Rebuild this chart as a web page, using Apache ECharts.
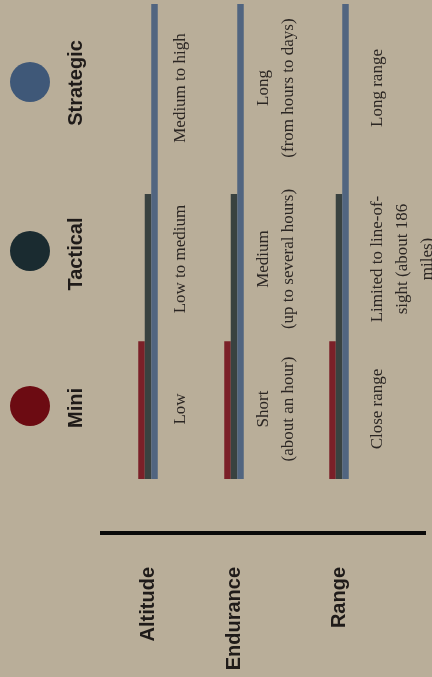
<!DOCTYPE html>
<html>
<head>
<meta charset="utf-8">
<script src="https://cdn.jsdelivr.net/npm/echarts@6/dist/echarts.min.js"></script>
<style>
html,body{margin:0;padding:0;background:#b9ae99;}
#chart{width:432px;height:677px;}
</style>
</head>
<body>
<div id="chart"></div>
<script>
// ---- data ----
const groups = ['Altitude', 'Endurance', 'Range'];
const classes = ['Mini', 'Tactical', 'Strategic'];
const altitudeLevel = [29, 60, 100];
const enduranceLevel = [29, 60, 100];
const rangeLevel = [29, 60, 100];
const altitudeText = ['Low', 'Low to medium', 'Medium to high'];
const enduranceText = ['Short\n(about an hour)', 'Medium\n(up to several hours)', 'Long\n(from hours to days)'];
const rangeText = ['Close range', 'Limited to line-of-\nsight (about 186\nmiles)', 'Long range'];

// ---- layout / style ----
const levels = [altitudeLevel, enduranceLevel, rangeLevel];
const texts = [altitudeText, enduranceText, rangeText];
const barColors = ['#7b2028', '#394240', '#516580'];
const legendColors = ['#6c0b12', '#1a2b30', '#3f5878'];
const groupCenter = [148, 234, 339];
const textLeft = [168, 251, 365];
const textCenter = [409, 259, 88];
const legendTop = [386, 231, 62];
const legendTextY = [408, 254, 83];
const baseY = 479, topY = 4, yMax = 100, bw = 6.5;
const W = 432, H = 677;

const grids = [], xAxes = [], yAxes = [], series = [];
groups.forEach((g, gi) => {
  grids.push({left: groupCenter[gi] - 30, width: 60, top: topY, bottom: H - baseY});
  xAxes.push({
    type: 'category', gridIndex: gi, data: [g],
    axisLine: {show: false}, axisTick: {show: false},
    axisLabel: {rotate: 90, margin: 88, fontFamily: 'Liberation Sans', fontWeight: 'bold', fontSize: 20, color: '#1f1b19'}
  });
  yAxes.push({type: 'value', gridIndex: gi, min: 0, max: yMax, show: false, splitLine: {show: false}});
  classes.forEach((c, ci) => {
    const v = levels[gi][ci];
    const barLeft = groupCenter[gi] - 1.5 * bw + ci * bw;
    const barTop = baseY - v / yMax * (baseY - topY);
    series.push({
      type: 'bar', name: c, xAxisIndex: gi, yAxisIndex: gi,
      data: [v], barWidth: bw, barGap: '0%',
      itemStyle: {color: barColors[ci]},
      silent: true,
      label: {
        show: true, formatter: texts[gi][ci], rotate: 90,
        position: [textLeft[gi] - barLeft, textCenter[ci] - barTop],
        align: 'center', verticalAlign: 'top',
        fontFamily: 'Liberation Serif', fontSize: 17, lineHeight: 25, color: '#2b2623'
      }
    });
  });
});

const legends = classes.map((c, i) => ({
  data: [{name: c, itemStyle: {color: legendColors[i]}}],
  left: 10, top: legendTop[i], icon: 'circle', itemWidth: 40, itemHeight: 40,
  selectedMode: false, formatter: () => '', itemGap: 0, padding: 0
}));

const chart = echarts.init(document.getElementById('chart'), null, {renderer: 'canvas'});
chart.setOption({
  backgroundColor: '#b9ae99',
  animation: false,
  grid: grids, xAxis: xAxes, yAxis: yAxes, series: series,
  legend: legends,
  graphic: [
    {type: 'rect', shape: {x: 100, y: 531, width: 326, height: 4}, style: {fill: '#0a0a0a'}},
    ...classes.map((c, i) => ({
      type: 'text', x: 76, y: legendTextY[i], rotation: Math.PI / 2,
      style: {text: c, fontFamily: 'Liberation Sans', fontWeight: 'bold', fontSize: 20, fill: '#1f1b19', align: 'center', verticalAlign: 'middle'}
    }))
  ]
});
</script>
</body>
</html>
